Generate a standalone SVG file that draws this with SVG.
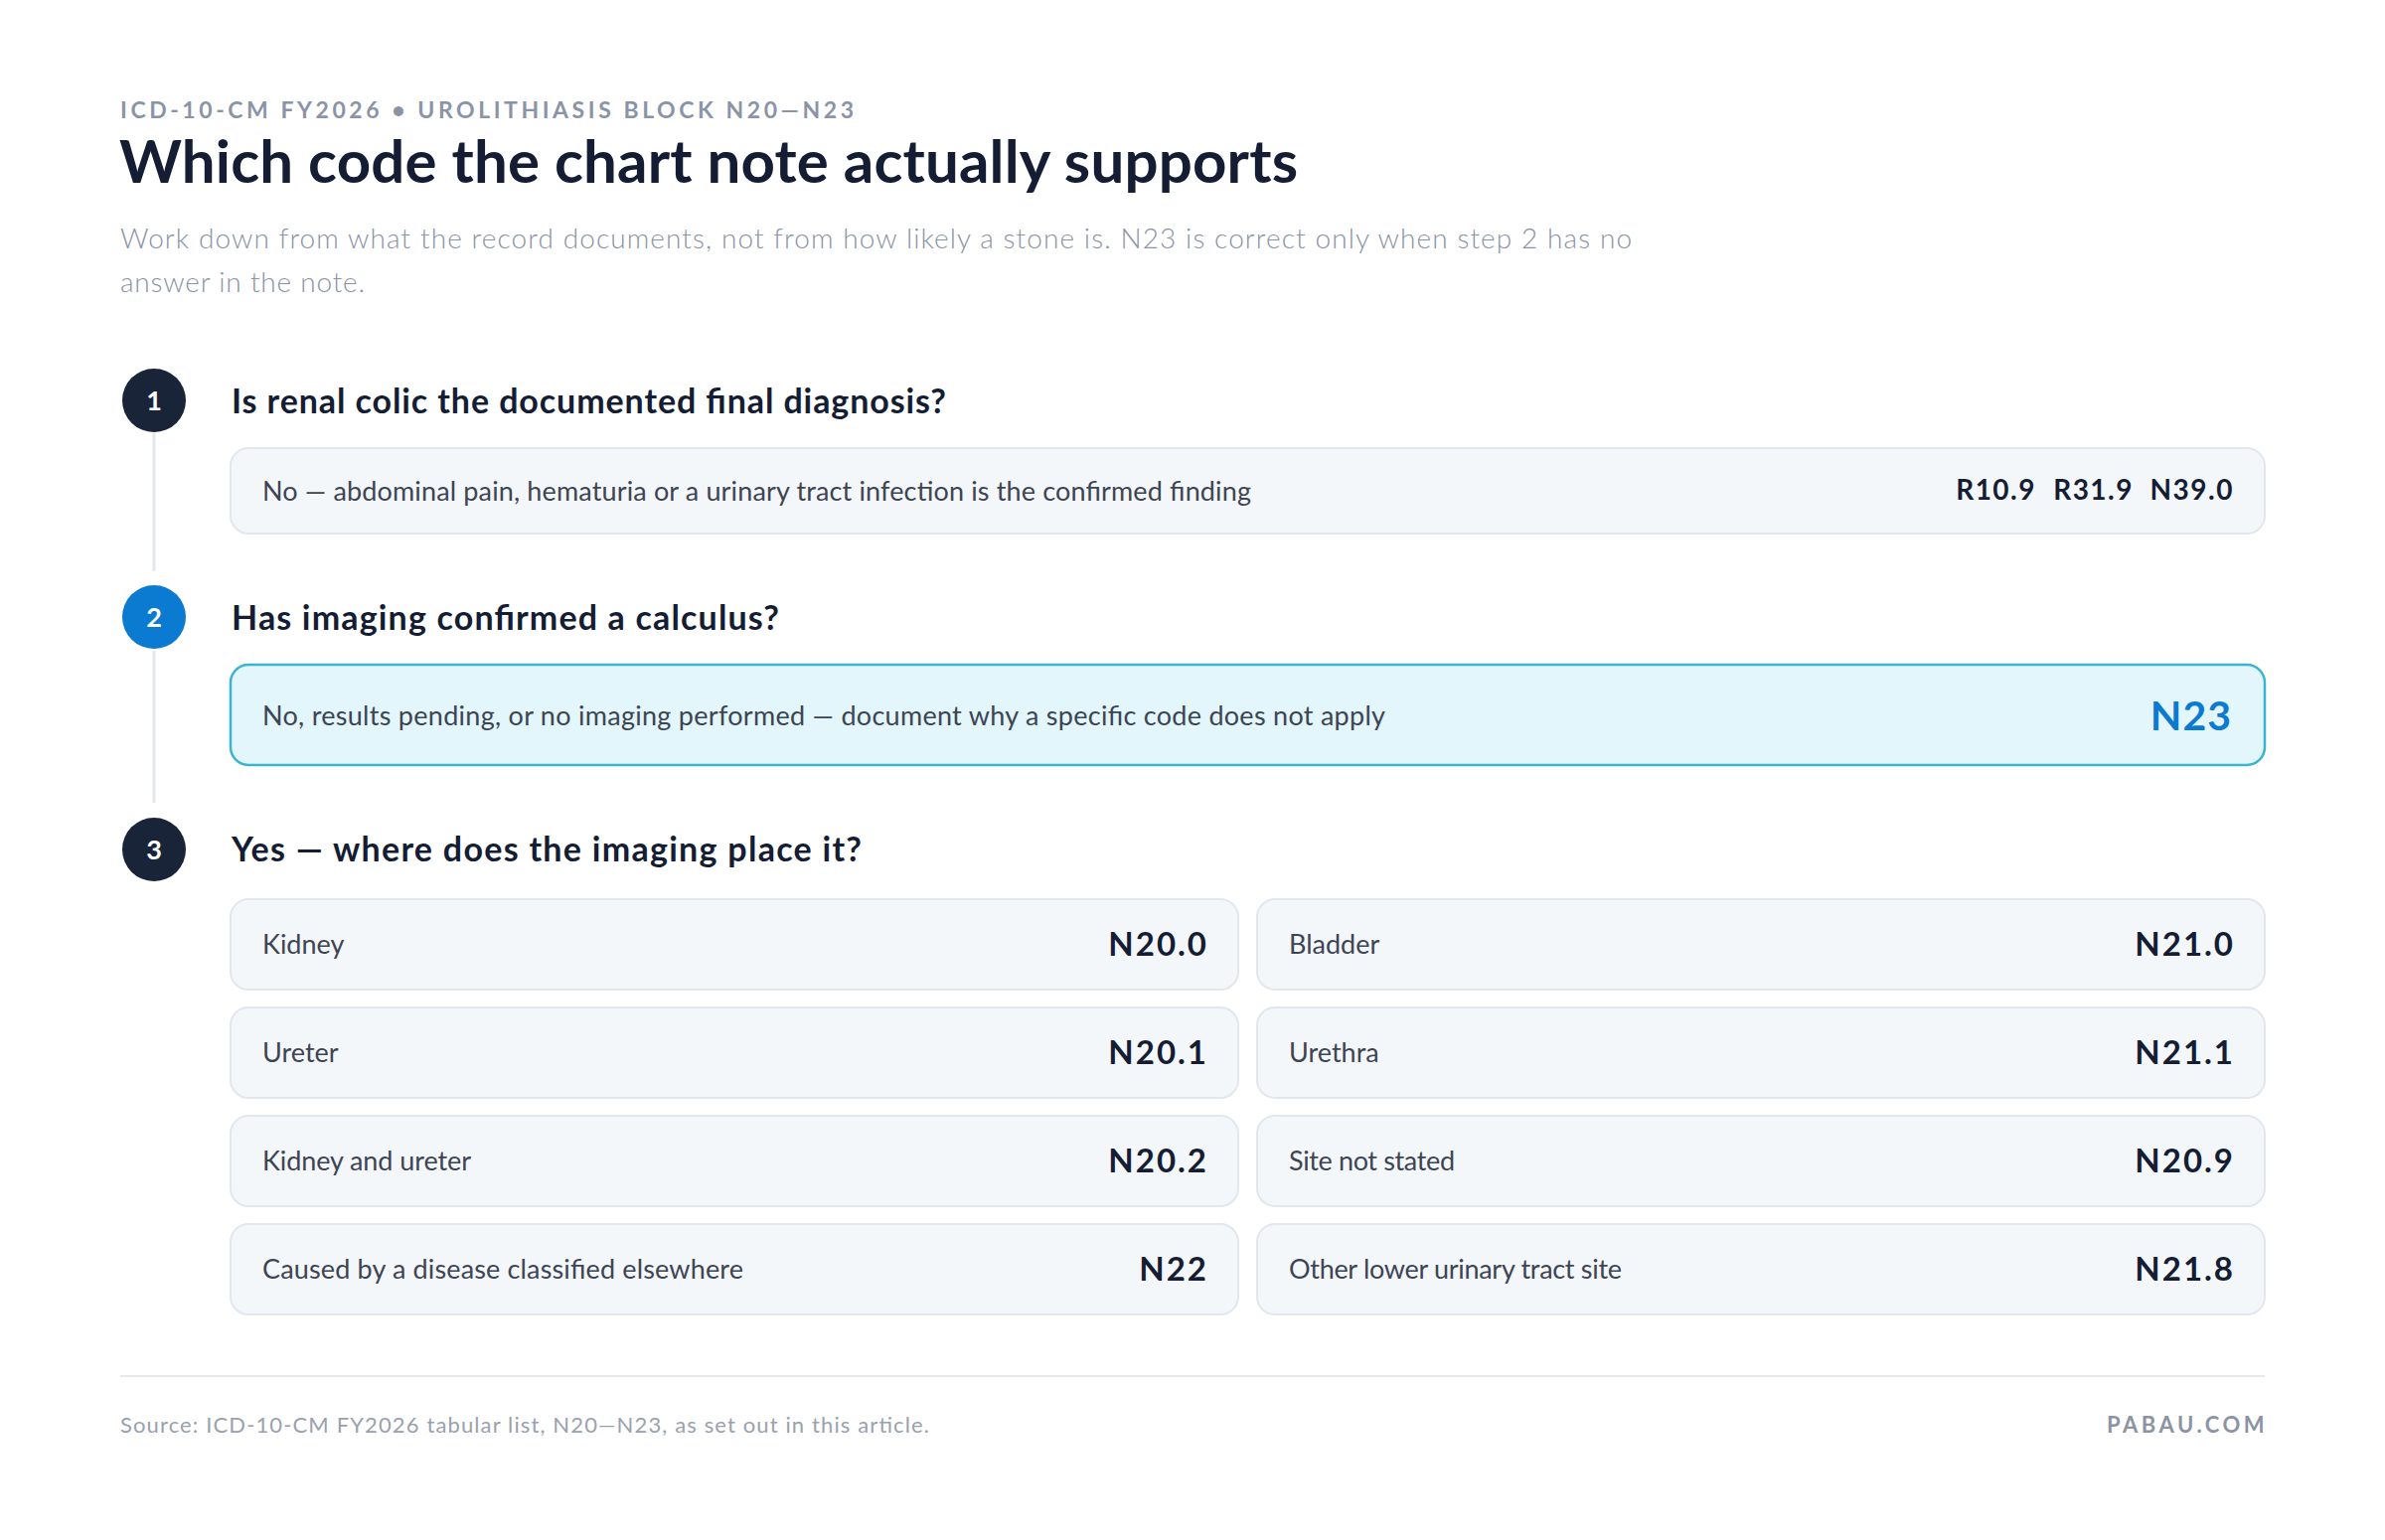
<svg xmlns="http://www.w3.org/2000/svg" width="2400" height="1550" viewBox="0 0 2400 1550">
  <style>
    text { font-family: Lato, "Liberation Sans", sans-serif; }
    .eyebrow { font-size: 23px; font-weight: 700; fill: #8b94a6; letter-spacing: 3px; }
    .title { font-size: 60px; font-weight: 700; fill: #141d33; }
    .sub { font-size: 28px; font-weight: 300; fill: #8b93a4; }
    .num { font-size: 27px; font-weight: 700; fill: #ffffff; text-anchor: middle; }
    .head { font-size: 34px; font-weight: 700; fill: #141d33; }
    .box { fill: #f4f7fa; stroke: #e2e7ee; stroke-width: 2; }
    .hbox { fill: #e2f6fb; stroke: #3ab5cf; stroke-width: 2.5; }
    .lbl { font-size: 27px; font-weight: 400; fill: #3d4554; }
    .code { font-size: 33px; font-weight: 700; fill: #141d33; text-anchor: end; letter-spacing: 2px; }
    .codes { font-size: 28px; font-weight: 700; fill: #141d33; text-anchor: end; letter-spacing: 1.5px; }
    .n23 { font-size: 41px; font-weight: 700; fill: #0b7bd1; text-anchor: end; letter-spacing: 1px; }
    .rail { stroke: #e3e7ec; stroke-width: 3; }
    .foot { font-size: 22px; font-weight: 400; fill: #9aa1ae; }
    .brand { font-size: 22px; font-weight: 700; fill: #8b93a4; letter-spacing: 3.5px; text-anchor: end; }
  </style>

  <g id="header">
    <text class="eyebrow" x="121" y="119" textLength="741">ICD-10-CM FY2026 • UROLITHIASIS BLOCK N20—N23</text>
    <text class="title" x="120" y="184" textLength="1186">Which code the chart note actually supports</text>
    <text class="sub" x="121" y="250" textLength="1521">Work down from what the record documents, not from how likely a stone is. N23 is correct only when step 2 has no</text>
    <text class="sub" x="121" y="294" textLength="246">answer in the note.</text>
  </g>

  <g id="connectors">
    <line class="rail" x1="155" y1="436" x2="155" y2="575"/>
    <line class="rail" x1="155" y1="655" x2="155" y2="808"/>
  </g>

  <g id="step1">
    <circle cx="155" cy="403" r="32" fill="#1a2438"/>
    <text class="num" x="155" y="413">1</text>
    <text class="head" x="233" y="416" textLength="719">Is renal colic the documented final diagnosis?</text>
  </g>
  <g id="step1-no">
    <rect class="box" x="232" y="451" width="2047" height="86" rx="18"/>
    <text class="lbl" x="264" y="504" textLength="995">No — abdominal pain, hematuria or a urinary tract infection is the confirmed finding</text>
    <text class="codes" x="2049" y="503">R10.9</text>
    <text class="codes" x="2147" y="503">R31.9</text>
    <text class="codes" x="2248" y="503">N39.0</text>
  </g>

  <g id="step2">
    <circle cx="155" cy="621" r="32" fill="#0b7bd1"/>
    <text class="num" x="155" y="631">2</text>
    <text class="head" x="233" y="634" textLength="551">Has imaging confirmed a calculus?</text>
  </g>
  <g id="step2-no">
    <rect class="hbox" x="232" y="669" width="2047" height="101" rx="18"/>
    <text class="lbl" x="264" y="730" textLength="1130">No, results pending, or no imaging performed — document why a specific code does not apply</text>
    <text class="n23" x="2246" y="735">N23</text>
  </g>

  <g id="step3">
    <circle cx="155" cy="855" r="32" fill="#1a2438"/>
    <text class="num" x="155" y="865">3</text>
    <text class="head" x="233" y="867" textLength="634">Yes — where does the imaging place it?</text>
  </g>

  <g id="kidney">
    <rect class="box" x="232" y="905" width="1014" height="91" rx="18"/>
    <text class="lbl" x="264" y="960">Kidney</text>
    <text class="code" x="1216" y="962">N20.0</text>
  </g>
  <g id="bladder">
    <rect class="box" x="1265" y="905" width="1014" height="91" rx="18"/>
    <text class="lbl" x="1297" y="960">Bladder</text>
    <text class="code" x="2249" y="962">N21.0</text>
  </g>
  <g id="ureter">
    <rect class="box" x="232" y="1014" width="1014" height="91" rx="18"/>
    <text class="lbl" x="264" y="1069">Ureter</text>
    <text class="code" x="1216" y="1071">N20.1</text>
  </g>
  <g id="urethra">
    <rect class="box" x="1265" y="1014" width="1014" height="91" rx="18"/>
    <text class="lbl" x="1297" y="1069">Urethra</text>
    <text class="code" x="2249" y="1071">N21.1</text>
  </g>
  <g id="kidney-ureter">
    <rect class="box" x="232" y="1123" width="1014" height="91" rx="18"/>
    <text class="lbl" x="264" y="1178" textLength="210">Kidney and ureter</text>
    <text class="code" x="1216" y="1180">N20.2</text>
  </g>
  <g id="site-not-stated">
    <rect class="box" x="1265" y="1123" width="1014" height="91" rx="18"/>
    <text class="lbl" x="1297" y="1178" textLength="167">Site not stated</text>
    <text class="code" x="2249" y="1180">N20.9</text>
  </g>
  <g id="elsewhere">
    <rect class="box" x="232" y="1232" width="1014" height="91" rx="18"/>
    <text class="lbl" x="264" y="1287" textLength="484">Caused by a disease classified elsewhere</text>
    <text class="code" x="1216" y="1289">N22</text>
  </g>
  <g id="other-lower">
    <rect class="box" x="1265" y="1232" width="1014" height="91" rx="18"/>
    <text class="lbl" x="1297" y="1287" textLength="335">Other lower urinary tract site</text>
    <text class="code" x="2249" y="1289">N21.8</text>
  </g>

  <g id="footer">
    <line x1="121" y1="1385" x2="2279" y2="1385" stroke="#e5e9ee" stroke-width="2"/>
    <text class="foot" x="121" y="1442" textLength="814">Source: ICD-10-CM FY2026 tabular list, N20—N23, as set out in this article.</text>
    <text class="brand" x="2282" y="1442">PABAU.COM</text>
  </g>
</svg>
